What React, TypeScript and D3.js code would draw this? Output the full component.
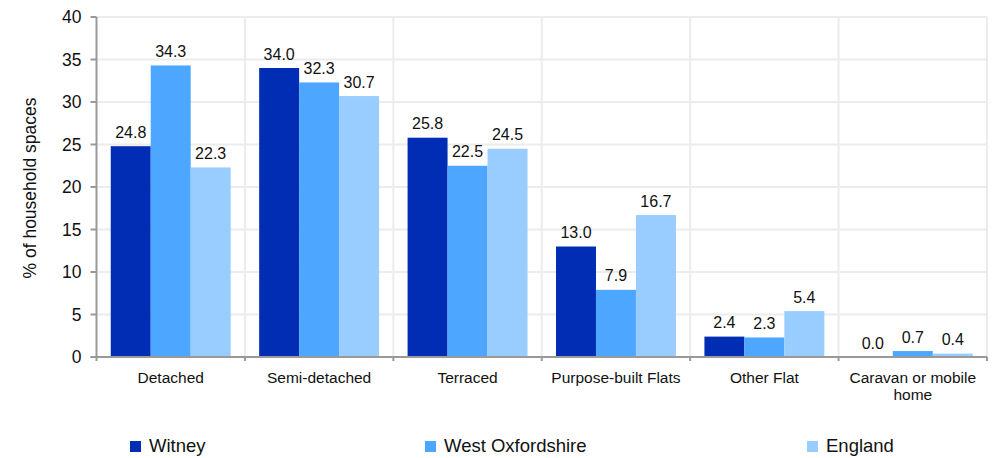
import React, { useEffect, useRef } from "react";
import * as d3 from "d3";

const categories = ["Detached", "Semi-detached", "Terraced", "Purpose-built Flats", "Other Flat", "Caravan or mobile home"];
const seriesNames = ["Witney", "West Oxfordshire", "England"];
const witney = [24.8, 34.0, 25.8, 13.0, 2.4, 0.0];
const westOxfordshire = [34.3, 32.3, 22.5, 7.9, 2.3, 0.7];
const england = [22.3, 30.7, 24.5, 16.7, 5.4, 0.4];
const yTicks = [0, 5, 10, 15, 20, 25, 30, 35, 40];
const colors = ["#002db3", "#4da6ff", "#99ccff"];

const W = 992;
const H = 458;
const FONT = "'Liberation Sans', Arial, sans-serif";

export default function App() {
  const ref = useRef<SVGSVGElement>(null);

  useEffect(() => {
    const svg = d3.select(ref.current);
    svg.selectAll("*").remove();

    const left = 96.5, right = 987, top = 17, bottom = 357;
    const series = [witney, westOxfordshire, england];

    const x = d3.scaleBand<string>().domain(categories).range([left, right]).paddingInner(0.192).paddingOuter(0.096);
    const x1 = d3.scaleBand<string>().domain(seriesNames).range([0, x.bandwidth()]);
    const y = d3.scaleLinear().domain([0, 40]).range([bottom, top]);
    const step = x.step();

    // horizontal gridlines
    svg.append("g").selectAll("line").data(yTicks.filter(t => t > 0)).join("line")
      .attr("x1", left).attr("x2", right)
      .attr("y1", d => y(d)).attr("y2", d => y(d))
      .attr("stroke", "#ececec").attr("stroke-width", 2);

    // vertical gridlines at category boundaries
    const bounds = d3.range(1, categories.length + 1).map(i => left + i * step);
    svg.append("g").selectAll("line").data(bounds).join("line")
      .attr("x1", d => d).attr("x2", d => d)
      .attr("y1", top).attr("y2", bottom)
      .attr("stroke", "#ececec").attr("stroke-width", 2);

    // bars
    const fmt = d3.format(".1f");
    seriesNames.forEach((name, si) => {
      const g = svg.append("g");
      g.selectAll("rect").data(series[si]).join("rect")
        .attr("x", (_, i) => (x(categories[i]) as number) + (x1(name) as number))
        .attr("y", d => y(d))
        .attr("width", x1.bandwidth())
        .attr("height", d => bottom - y(d))
        .attr("fill", colors[si]);
      g.selectAll("text").data(series[si]).join("text")
        .attr("x", (_, i) => (x(categories[i]) as number) + (x1(name) as number) + x1.bandwidth() / 2)
        .attr("y", d => y(d) - 8.5)
        .attr("text-anchor", "middle")
        .attr("font-family", FONT).attr("font-size", 16).attr("fill", "#111")
        .text(d => fmt(d));
    });

    // y axis
    const yAxis = svg.append("g");
    yAxis.append("line").attr("x1", left).attr("x2", left).attr("y1", top).attr("y2", bottom + 4)
      .attr("stroke", "#999").attr("stroke-width", 2);
    yAxis.selectAll("line.tick").data(yTicks).join("line").attr("class", "tick")
      .attr("x1", left - 6).attr("x2", left).attr("y1", d => y(d)).attr("y2", d => y(d))
      .attr("stroke", "#999").attr("stroke-width", 2);
    yAxis.selectAll("text").data(yTicks).join("text")
      .attr("x", left - 15).attr("y", d => y(d)).attr("dy", "0.35em")
      .attr("text-anchor", "end").attr("font-family", FONT).attr("font-size", 17.5).attr("fill", "#111")
      .text(d => String(d));

    // x axis
    const xAxis = svg.append("g");
    xAxis.append("line").attr("x1", left - 6).attr("x2", right).attr("y1", bottom).attr("y2", bottom)
      .attr("stroke", "#999").attr("stroke-width", 2);
    xAxis.selectAll("line.tick").data(bounds).join("line").attr("class", "tick")
      .attr("x1", d => d).attr("x2", d => d).attr("y1", bottom).attr("y2", bottom + 4)
      .attr("stroke", "#999").attr("stroke-width", 2);

    const wrap: Record<string, string[]> = { "Caravan or mobile home": ["Caravan or mobile", "home"] };
    categories.forEach(c => {
      const lines = wrap[c] || [c];
      const t = xAxis.append("text")
        .attr("x", (x(c) as number) + x.bandwidth() / 2).attr("y", 383)
        .attr("text-anchor", "middle").attr("font-family", FONT).attr("font-size", 15.5).attr("fill", "#111");
      lines.forEach((l, i) => {
        t.append("tspan").attr("x", (x(c) as number) + x.bandwidth() / 2).attr("dy", i === 0 ? 0 : 17).text(l);
      });
    });

    // y title
    svg.append("text")
      .attr("transform", `translate(36, ${(top + bottom) / 2 + 1}) rotate(-90)`)
      .attr("text-anchor", "middle").attr("font-family", FONT).attr("font-size", 17.5).attr("fill", "#111")
      .text("% of household spaces");

    // legend
    const legendX = [130, 425, 807];
    const lg = svg.append("g");
    seriesNames.forEach((name, i) => {
      lg.append("rect").attr("x", legendX[i]).attr("y", 441).attr("width", 11).attr("height", 11).attr("fill", colors[i]);
      lg.append("text").attr("x", legendX[i] + 19).attr("y", 452)
        .attr("font-family", FONT).attr("font-size", 18.5).attr("fill", "#111").text(name);
    });
  }, []);

  return (
    <svg ref={ref} width={W} height={H} style={{ position: "absolute", left: 0, top: 0, background: "#fff" }} />
  );
}
